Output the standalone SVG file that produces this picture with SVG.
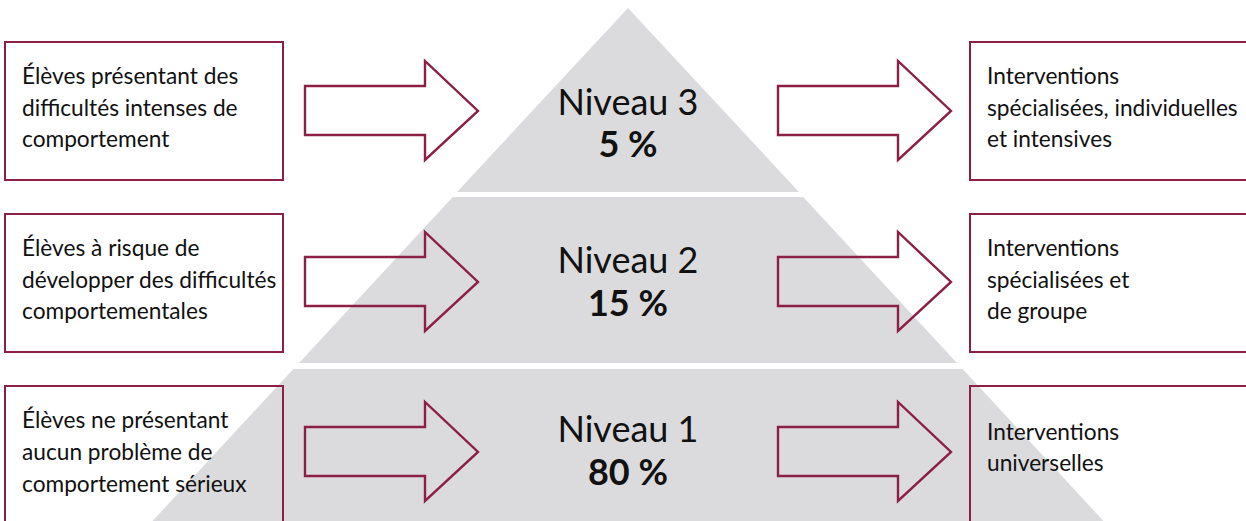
<svg xmlns="http://www.w3.org/2000/svg" width="1246" height="521" viewBox="0 0 1246 521">
  <style>
    .band { fill: #dbdbdd; }
    .box { fill: none; stroke: #8c1f44; stroke-width: 2; }
    .arrow { fill: none; stroke: #8c1f44; stroke-width: 2.4; stroke-linejoin: miter; }
    .txt { font-family: Lato, "Open Sans", "Liberation Sans", sans-serif; font-size: 22.7px; fill: #111; }
    .lvl { font-family: Lato, "Open Sans", "Liberation Sans", sans-serif; font-size: 36px; fill: #111; text-anchor: middle; }
    .pct { font-weight: bold; }
  </style>
  <defs>
    <path id="arrowShape" d="M0,25 H120 V0 L173,50 L120,99 V74 H0 Z"/>
  </defs>
  <rect width="1246" height="521" fill="#ffffff"/>

  <!-- pyramid bands -->
  <g id="pyramid">
    <polygon class="band" points="628,8 799,192 457,192"/>
    <polygon class="band" points="452.8,197 803.2,197 957,363 299,363"/>
    <polygon class="band" points="293.4,369 962.6,369 1111.8,530 144.2,530"/>
  </g>

  <!-- level labels -->
  <g id="level3">
    <text class="lvl" x="628" y="115">Niveau 3</text>
    <text class="lvl pct" x="628" y="157">5 %</text>
  </g>
  <g id="level2">
    <text class="lvl" x="628" y="273">Niveau 2</text>
    <text class="lvl pct" x="628" y="316">15 %</text>
  </g>
  <g id="level1">
    <text class="lvl" x="628" y="442">Niveau 1</text>
    <text class="lvl pct" x="628" y="485">80 %</text>
  </g>

  <!-- student groups (left) -->
  <g id="students3">
    <rect class="box" x="5" y="42" width="278" height="138"/>
    <text class="txt" x="22" y="84">Élèves présentant des</text>
    <text class="txt" x="22" y="116">difficultés intenses de</text>
    <text class="txt" x="22" y="147">comportement</text>
  </g>
  <g id="students2">
    <rect class="box" x="5" y="214" width="278" height="138"/>
    <text class="txt" x="22" y="256">Élèves à risque de</text>
    <text class="txt" x="22" y="288">développer des difficultés</text>
    <text class="txt" x="22" y="319">comportementales</text>
  </g>
  <g id="students1">
    <rect class="box" x="5" y="386" width="278" height="150"/>
    <text class="txt" x="22" y="428">Élèves ne présentant</text>
    <text class="txt" x="22" y="460">aucun problème de</text>
    <text class="txt" x="22" y="492">comportement sérieux</text>
  </g>

  <!-- interventions (right) -->
  <g id="interventions3">
    <rect class="box" x="970" y="42" width="290" height="138"/>
    <text class="txt" x="987" y="84">Interventions</text>
    <text class="txt" x="987" y="116">spécialisées, individuelles</text>
    <text class="txt" x="987" y="147">et intensives</text>
  </g>
  <g id="interventions2">
    <rect class="box" x="970" y="214" width="290" height="138"/>
    <text class="txt" x="987" y="256">Interventions</text>
    <text class="txt" x="987" y="288">spécialisées et</text>
    <text class="txt" x="987" y="319">de groupe</text>
  </g>
  <g id="interventions1">
    <rect class="box" x="970" y="386" width="290" height="150"/>
    <text class="txt" x="987" y="440">Interventions</text>
    <text class="txt" x="987" y="471">universelles</text>
  </g>

  <!-- connectors -->
  <g id="connectors">
    <use href="#arrowShape" class="arrow" x="305" y="61"/>
    <use href="#arrowShape" class="arrow" x="305" y="232"/>
    <use href="#arrowShape" class="arrow" x="305" y="402"/>
    <use href="#arrowShape" class="arrow" x="778" y="61"/>
    <use href="#arrowShape" class="arrow" x="778" y="232"/>
    <use href="#arrowShape" class="arrow" x="778" y="402"/>
  </g>
</svg>
